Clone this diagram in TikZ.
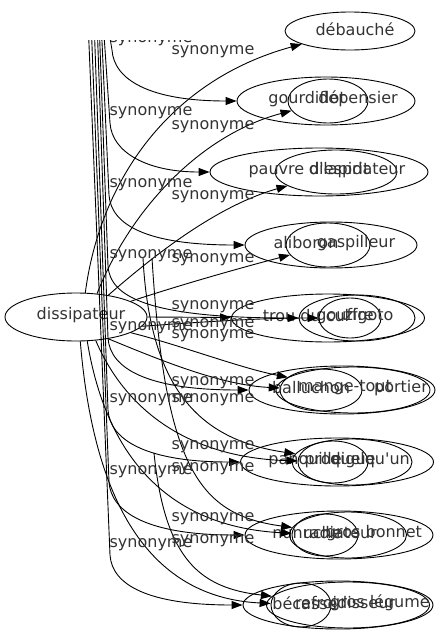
\documentclass[tikz,border=0pt]{standalone}
\usepackage{fontspec}
\newfontfamily\graphfont{DejaVu Sans}
\usetikzlibrary{shapes.geometric,arrows.meta}

\tikzset{
	word/.style={draw, ellipse, inner sep=0pt, line width=0.9pt},
	wordtext/.style={inner sep=0pt, text=black!80, font=\graphfont\fontsize{16}{19}\selectfont},
	reltext/.style={inner sep=0pt, text=black!80, font=\graphfont\fontsize{16}{19}\selectfont},
	edge/.style={line width=0.9pt, -{Triangle[length=11pt,width=8pt]}},
}

\begin{document}
\begin{tikzpicture}[x=1pt,y=-1pt]

	% ---- frame

	\useasboundingbox (0,0) rectangle (436,635);

	% ---- centre word

	\node[word, minimum width=142pt, minimum height=48pt] (dissip) at (76,317) {};
	\node[wordtext] (t-dissip) at ([xshift=5pt,yshift=2pt]dissip.center) {dissipateur};

	% ---- synonyms (name/x/y/width/height/text shift/text)

	\foreach \name/\x/\y/\w/\h/\dx/\txt in {
		debauche/350/31/130/38/5/débauché,
		gourdiflot/328/101/80/44/-21/gourdiflot,
		depensier/326/101/178/48/32/dépensier,
		dilapidateur/336/172/122/44/21/dilapidateur,
		pauvre/319/172/218/48/-10/pauvre d'esprit,
		aliboron/328/245/84/44/-22/aliboron,
		gaspilleur/331/245/172/46/25/gaspilleur,
		troucul/328/318/193/48/-22/trou du cul,
		gouffre/357/318/116/46/-12/gouffre,
		zigoto/350/318/62/40/19/zigoto,
		balluchon/321/390/82/42/-10/balluchon,
		mangetout/353/390/154/46/-8/mange-tout,
		portier/342/390/186/48/59/portier,
		panouille/333/462/70/42/-28/panouille,
		prodigue/352/462/120/46/-12/prodigue,
		quelquun/337/462/193/48/33/quelqu'un,
		nunuche/325/535/66/42/-18/nunuche,
		radiateur/348/535/117/46/-8/radiateur,
		grosbonnet/339/535/188/48/35/gros bonnet,
		becasse/301/605/60/44/4/bécasse,
		refroidisseur/348/605/163/46/-3/refroidisseur,
		groslegume/338/605/190/48/42/gros légume} {
		\node[word, minimum width=\w pt, minimum height=\h pt] (\name) at (\x,\y) {};
		\node[wordtext] (t-\name) at ([xshift=\dx pt,yshift=2pt]\name.center) {\txt};
	}

	% ---- loose ends

	\coordinate (c1) at (143,258);
	\coordinate (c2) at (152,258);
	\coordinate (c3) at (154,453);

	\begin{scope}
	\clip (0,40) rectangle (436,635);

	% ---- edges coming down from the top

	\foreach \i/\x/\bx/\L/\yt/\target in {
		2/107/112/50/101/depensier,
		3/103/110/123/172/pauvre,
		4/101/109/195/245/gaspilleur,
		5/99/108/266/318/gouffre,
		6/97/108/338/390/portier,
		7/94/108/410/462/quelquun,
		8/91/109/482/535/grosbonnet,
		9/88/110/555/605/groslegume} {
		\coordinate (top\i) at (\x,20);
		\draw[edge] (top\i) -- (\bx,\L) .. controls (\bx+2,\L+30) and (\bx+38,\yt) .. (\target);
	}

	% ---- edges out of dissipateur

	\draw[edge] (dissip.69) .. controls (100,180) and (170,80) .. (debauche);
	\draw[edge] (dissip.48) .. controls (130,210) and (200,135) .. (gourdiflot);
	\draw[edge] (dissip.34) .. controls (160,250) and (220,205) .. (dilapidateur);
	\draw[edge] (dissip.16) .. controls (180,285) and (240,268) .. (aliboron);
	\draw[edge] (dissip.0) -- (troucul);
	\draw[edge] (dissip.-8) .. controls (200,322) and (260,318) .. (zigoto);
	\draw[edge] (dissip.-16) .. controls (180,345) and (240,368) .. (mangetout);
	\draw[edge] (dissip.-34) .. controls (160,360) and (220,385) .. (balluchon);
	\draw[edge] (dissip.-50) .. controls (130,420) and (200,458) .. (panouille);
	\draw[edge] (dissip.-65) .. controls (110,480) and (190,528) .. (nunuche);
	\draw[edge] (dissip.-80) .. controls (95,520) and (160,598) .. (becasse);

	% ---- edges from the loose ends

	\draw[edge] (c1) .. controls (150,390) and (200,440) .. (prodigue);
	\draw[edge] (c2) .. controls (165,470) and (200,515) .. (radiateur);
	\draw[edge] (c3) .. controls (165,560) and (200,588) .. (refroidisseur);

	% ---- edge labels

	\foreach \i/\y in {1/40,2/113,3/185,4/256,5/328,6/400,7/472,8/545} {
		\node[reltext] (sl\i) at (151,\y) {synonyme};
	}
	\foreach \i/\y in {1/52,2/127,3/197,4/260,5/307,6/325,7/336,8/383,9/400,10/447,11/469,12/519,13/541} {
		\node[reltext] (sr\i) at (213,\y) {synonyme};
	}

	\end{scope}

\end{tikzpicture}
\end{document}
